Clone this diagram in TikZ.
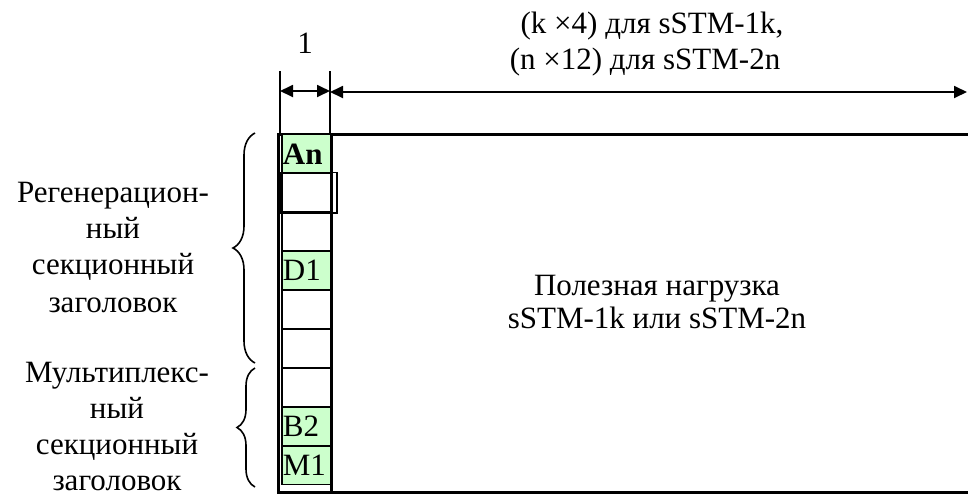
\documentclass[tikz,border=0pt]{standalone}
\usepackage{fontspec}
\setmainfont{Liberation Serif}
\usetikzlibrary{arrows.meta,decorations.pathreplacing}
\definecolor{cellgreen}{HTML}{CCFFCC}
\begin{document}
\begin{tikzpicture}[x=1pt,y=-1pt,
  every node/.style={font=\fontsize{31}{36}\selectfont},
  cellbox/.style={draw, line width=1.8pt, minimum width=50pt, minimum height=38.9pt,
    anchor=north west, inner sep=0pt, text width=48pt, align=left, inner xsep=1pt},
  greencell/.style={cellbox, fill=cellgreen},
  dimline/.style={line width=1.8pt},
  dimarrow/.style={line width=1.8pt, {Triangle[length=13pt,width=12pt]}-{Triangle[length=13pt,width=12pt]}},
  bracestyle/.style={line width=1.6pt, decorate},
  txt/.style={align=center, inner sep=0pt, anchor=base}
]
\useasboundingbox (0,0) rectangle (968,501);
% payload frame
\node[draw, line width=3pt, minimum width=700pt, minimum height=358pt, anchor=north west, inner sep=0pt] (payload) at (277,133) {};
% cells
\node[greencell, font=\fontsize{31}{36}\selectfont\bfseries] (c1) at (281,133.5) {An};
\node[cellbox] (c2) at (281,172.4) {};
\node[cellbox] (c3) at (281,211.3) {};
\node[greencell] (c4) at (281,250.2) {D1};
\node[cellbox] (c5) at (281,289.1) {};
\node[cellbox] (c6) at (281,328.0) {};
\node[cellbox] (c7) at (281,366.9) {};
\node[greencell] (c8) at (281,405.8) {B2};
\node[greencell] (c9) at (281,444.7) {M1};
\draw[line width=1.8pt] (c2.north west) rectangle ([xshift=4pt]c2.south east);
% column right border
\coordinate (colTop) at (331,133);
\coordinate (colBot) at (331,491);
\draw[line width=3pt] (colTop) -- (colBot);
% dimension lines
\coordinate (e1t) at (280,71);
\coordinate (e1b) at (280,133);
\coordinate (e2t) at (330,71);
\coordinate (e2b) at (330,133);
\draw[dimline] (e1t) -- (e1b);
\draw[dimline] (e2t) -- (e2b);
\coordinate (a1l) at (280,91);
\coordinate (a1r) at (330,91);
\coordinate (a2l) at (330,92);
\coordinate (a2r) at (967,92);
\draw[dimarrow] (a1l) -- (a1r);
\draw[dimarrow] (a2l) -- (a2r);
\node[txt] (one) at (305,53) {1};
\node[txt] (top1) at (652,33) {(k ×4) для sSTM-1k,};
\node[txt] (top2) at (645,69) {(n ×12) для sSTM-2n};
% payload text
\node[txt] (p1) at (657,295) {Полезная нагрузка};
\node[txt] (p2) at (657,328) {sSTM-1k или sSTM-2n};
% left labels
\node[txt] (r1) at (113,202) {Регенерацион-};
\node[txt] (r2) at (113,238) {ный};
\node[txt] (r3) at (113,274) {секционный};
\node[txt] (r4) at (113,312) {заголовок};
\node[txt] (m1) at (117,382) {Мультиплекс-};
\node[txt] (m2) at (117,418) {ный};
\node[txt] (m3) at (117,454) {секционный};
\node[txt] (m4) at (117,490) {заголовок};
% braces
\coordinate (b1b) at (255,363);
\coordinate (b1t) at (255,133);
\coordinate (b2b) at (255,487);
\coordinate (b2t) at (255,368);
\draw[bracestyle, decoration={brace, amplitude=22pt, aspect=0.5}] (b1b) -- (b1t);
\draw[bracestyle, decoration={brace, amplitude=18pt, aspect=0.5}] (b2b) -- (b2t);
\end{tikzpicture}
\end{document}
